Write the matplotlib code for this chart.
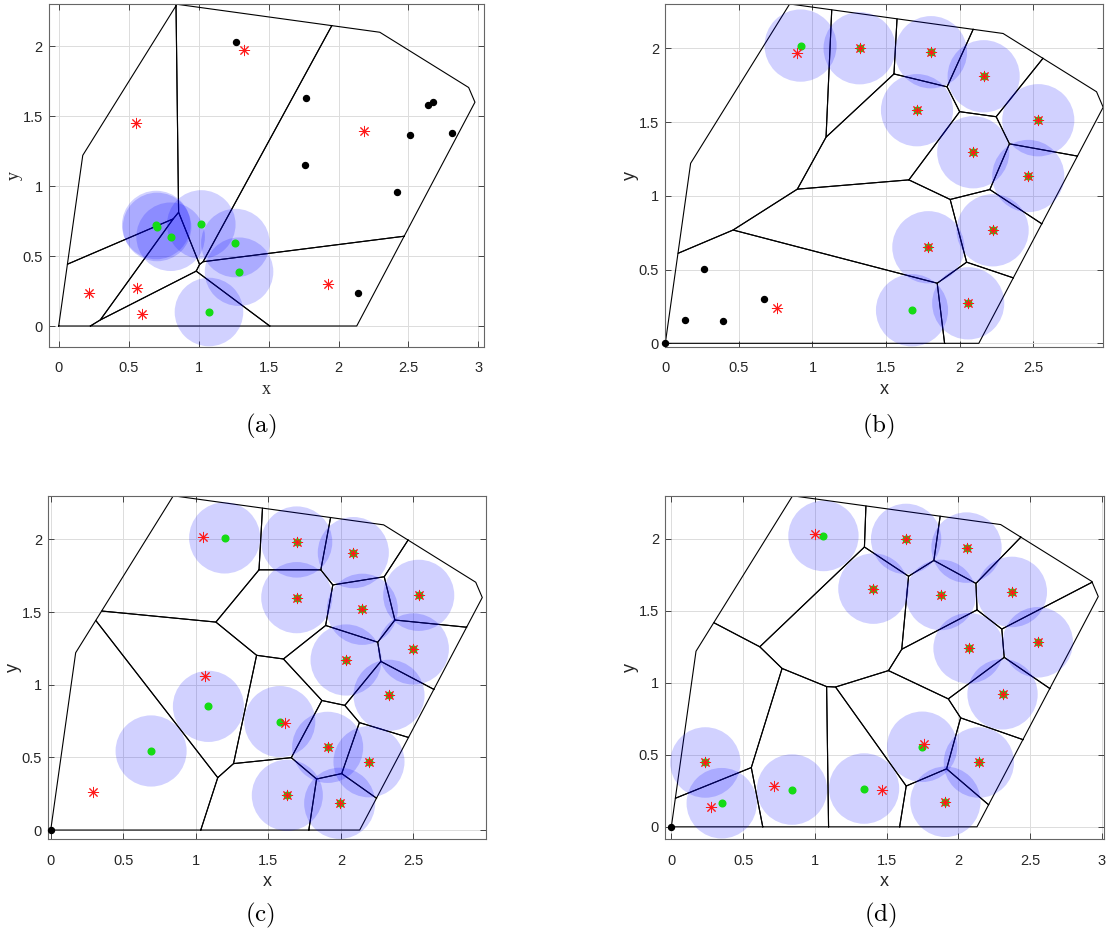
import numpy as np
import matplotlib
matplotlib.use('Agg')
import matplotlib.pyplot as plt
from matplotlib.patches import Circle

plt.rcParams['mathtext.fontset'] = 'cm'

# workspace boundary (shared by all four snapshots)
env_x = [0.0, 2.13, 2.975, 2.93, 2.295, 0.845, 0.172]
env_y = [0.0, 0.0, 1.60, 1.705, 2.10, 2.30, 1.22]

sense_radius = 0.245

# (a) initial state
a_agent_x = [0.697, 0.703, 0.800, 1.019, 1.263, 1.289, 1.074]
a_agent_y = [0.722, 0.708, 0.638, 0.726, 0.593, 0.388, 0.100]
a_target_x = [0.555, 1.325, 2.183, 1.928, 0.219, 0.558, 0.593]
a_target_y = [1.452, 1.971, 1.393, 0.300, 0.238, 0.274, 0.086]
a_other_x = [1.268, 1.766, 1.761, 2.418, 2.514, 2.642, 2.676, 2.809, 2.142]
a_other_y = [2.029, 1.633, 1.152, 0.960, 1.364, 1.579, 1.602, 1.381, 0.238]

# (b)
b_agent_x = [0.919, 1.320, 1.805, 2.163, 1.710, 2.534, 2.092, 2.466, 2.224, 1.787, 1.676, 2.058]
b_agent_y = [2.018, 2.000, 1.973, 1.810, 1.580, 1.512, 1.295, 1.134, 0.766, 0.651, 0.224, 0.271]
b_target_x = [0.897, 1.320, 1.805, 2.163, 1.710, 2.534, 2.092, 2.466, 2.224, 1.787, 2.058, 0.756]
b_target_y = [1.971, 2.000, 1.973, 1.810, 1.580, 1.512, 1.295, 1.134, 0.766, 0.651, 0.271, 0.237]
b_other_x = [0.0, 0.136, 0.263, 0.389, 0.670]
b_other_y = [0.0, 0.158, 0.506, 0.154, 0.303]

# (c)
c_agent_x = [1.199, 1.696, 2.086, 1.696, 2.148, 2.537, 2.036, 2.500, 2.332, 1.909, 2.194, 1.631,
             1.992, 1.087, 1.579, 0.692]
c_agent_y = [2.010, 1.982, 1.909, 1.599, 1.519, 1.615, 1.170, 1.246, 0.927, 0.569, 0.470, 0.239,
             0.184, 0.851, 0.746, 0.544]
c_target_x = [1.052, 1.696, 2.086, 1.696, 2.148, 2.537, 2.036, 2.500, 2.332, 1.909, 2.194, 1.631,
              1.992, 1.064, 1.615, 0.294]
c_target_y = [2.014, 1.982, 1.909, 1.599, 1.519, 1.615, 1.170, 1.246, 0.927, 0.569, 0.470, 0.239,
              0.184, 1.060, 0.734, 0.259]
c_other_x = [0.0]
c_other_y = [0.0]

# (d)
d_agent_x = [1.060, 1.636, 2.057, 1.408, 1.878, 2.373, 2.071, 2.554, 2.308, 2.143, 1.910, 0.237,
             1.748, 0.351, 0.841, 1.343]
d_agent_y = [2.021, 2.000, 1.940, 1.655, 1.611, 1.632, 1.241, 1.282, 0.921, 0.447, 0.174, 0.447,
             0.556, 0.164, 0.259, 0.266]
d_target_x = [1.002, 1.636, 2.057, 1.408, 1.878, 2.373, 2.071, 2.554, 2.308, 2.143, 1.910, 0.237,
              1.764, 0.274, 0.713, 1.469]
d_target_y = [2.037, 2.000, 1.940, 1.655, 1.611, 1.632, 1.241, 1.282, 0.921, 0.447, 0.174, 0.447,
              0.572, 0.141, 0.282, 0.255]
d_other_x = [0.0]
d_other_y = [0.0]

tick_vals = [0, 0.5, 1, 1.5, 2, 2.5, 3]
tick_text = ['0', '0.5', '1', '1.5', '2', '2.5', '3']


def clip_halfplane(poly, a, b):
    # keep the part of a convex polygon with a.x <= b
    out = []
    n = len(poly)
    for k in range(n):
        p = poly[k]
        q = poly[(k + 1) % n]
        fp = a @ p - b
        fq = a @ q - b
        if fp <= 0:
            out.append(p)
        if fp * fq < 0:
            t = fp / (fp - fq)
            out.append(p + t * (q - p))
    return np.array(out)


def voronoi_cells(px, py, env):
    pts = np.column_stack([px, py])
    cells = []
    for i, p in enumerate(pts):
        cell = env.copy()
        for j, q in enumerate(pts):
            if i == j:
                continue
            cell = clip_halfplane(cell, q - p, (q @ q - p @ p) / 2)
            if len(cell) == 0:
                break
        cells.append(cell)
    return cells


def draw_panel(ax, agent_x, agent_y, target_x, target_y, other_x, other_y,
               xlim, ylim, label_font):
    env = np.column_stack([env_x, env_y])
    for cell in voronoi_cells(agent_x, agent_y, env):
        if len(cell) < 3:
            continue
        closed = np.vstack([cell, cell[:1]])
        ax.plot(closed[:, 0], closed[:, 1], color='k', lw=0.8, zorder=2)

    for x, y in zip(agent_x, agent_y):
        ax.add_patch(Circle((x, y), sense_radius, facecolor=(0, 0, 1), alpha=0.18,
                            edgecolor='none', zorder=3))

    ax.plot(other_x, other_y, 'o', color='k', ms=4.3, zorder=4, clip_on=False)
    ax.plot(agent_x, agent_y, 'o', color='#14dc14', ms=4.8, zorder=5)
    ax.plot(target_x, target_y, linestyle='none', marker=(8, 2, 0), color='#ff1a1a',
            ms=8, mew=0.7, zorder=6)

    ax.set_xlim(*xlim)
    ax.set_ylim(*ylim)
    ax.set_xticks([t for t in tick_vals if xlim[0] <= t <= xlim[1] + 1e-9])
    ax.set_xticklabels([s for t, s in zip(tick_vals, tick_text) if xlim[0] <= t <= xlim[1] + 1e-9])
    ax.set_yticks([t for t in tick_vals if ylim[0] <= t <= ylim[1]])
    ax.set_yticklabels([s for t, s in zip(tick_vals, tick_text) if ylim[0] <= t <= ylim[1]])
    ax.grid(True, color='#dcdcdc', lw=0.7, zorder=0)
    ax.set_axisbelow(True)
    ax.tick_params(direction='in', length=4, width=0.7, top=True, right=True,
                   colors='#444444', labelcolor='#262626', labelsize=10.5)
    ax.tick_params(axis='x', pad=10.5)
    ax.tick_params(axis='y', pad=4.5)
    for lab in ax.get_xticklabels() + ax.get_yticklabels():
        lab.set_fontfamily('Liberation Sans')
    for s in ax.spines.values():
        s.set_color('#666666')
        s.set_linewidth(0.8)
    ax.set_xlabel('x', fontfamily=label_font, fontsize=13, color='#262626', labelpad=4)
    ax.set_ylabel('y', fontfamily=label_font, fontsize=13, color='#262626', labelpad=0)


fig = plt.figure(figsize=(11.12, 9.3), dpi=100)

ax_a = fig.add_axes([0.0441, 0.6272, 0.3912, 0.3682])
draw_panel(ax_a, a_agent_x, a_agent_y, a_target_x, a_target_y, a_other_x, a_other_y,
           (-0.069, 3.04), (-0.148, 2.30), 'Liberation Serif')

ax_b = fig.add_axes([0.5983, 0.6272, 0.3939, 0.3682])
draw_panel(ax_b, b_agent_x, b_agent_y, b_target_x, b_target_y, b_other_x, b_other_y,
           (0.0, 2.976), (-0.023, 2.298), 'Liberation Sans')

ax_c = fig.add_axes([0.0434, 0.0978, 0.3933, 0.3691])
draw_panel(ax_c, c_agent_x, c_agent_y, c_target_x, c_target_y, c_other_x, c_other_y,
           (-0.017, 2.998), (-0.062, 2.30), 'Liberation Sans')

ax_d = fig.add_axes([0.5983, 0.0978, 0.3945, 0.3691])
draw_panel(ax_d, d_agent_x, d_agent_y, d_target_x, d_target_y, d_other_x, d_other_y,
           (-0.042, 3.015), (-0.085, 2.30), 'Liberation Sans')

captions = ['(a)', '(b)', '(c)', '(d)']
cap_pos = [(261, 426), (878, 426), (260, 915), (880, 915)]
for cap, (px, py) in zip(captions, cap_pos):
    fig.text(px / 1112, 1 - py / 930, r'$\mathrm{' + cap + '}$', ha='center', va='center',
             fontsize=18)

fig.savefig('out.png', dpi=100)
